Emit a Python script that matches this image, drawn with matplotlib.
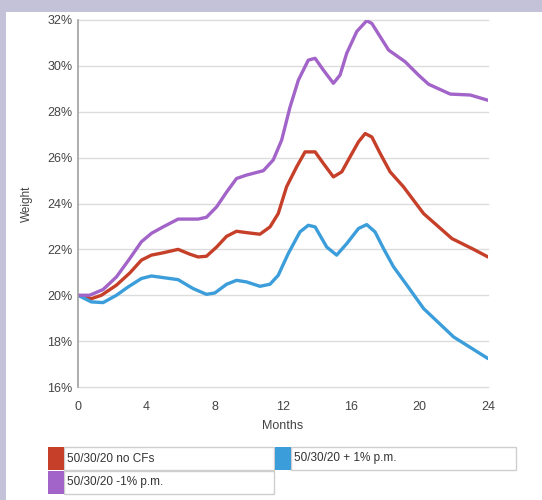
import matplotlib
matplotlib.use("Agg")
import matplotlib.pyplot as plt
from matplotlib.patches import Rectangle
from matplotlib.ticker import FuncFormatter

plt.rcParams['font.family'] = ['Liberation Sans', 'DejaVu Sans']

# months / weight (%)
months_nocf = [0, 0.78, 1.37, 2.25, 3.03, 3.71, 4.3, 4.98, 5.86, 6.55, 7.03, 7.52, 8.11, 8.7, 9.28,
               9.87, 10.65, 11.24, 11.72, 12.21, 12.8, 13.29, 13.88, 14.36, 14.95, 15.44, 15.93,
               16.42, 16.81, 17.2, 17.69, 18.27, 19.05, 20.23, 21.89, 23.16, 24]
weight_nocf = [20.0, 19.85, 20.0, 20.44, 20.97, 21.53, 21.75, 21.85, 22.0, 21.79, 21.67, 21.7, 22.1,
               22.57, 22.79, 22.73, 22.66, 22.98, 23.56, 24.73, 25.6, 26.25, 26.25, 25.75, 25.16,
               25.38, 26.04, 26.69, 27.05, 26.9, 26.18, 25.38, 24.73, 23.56, 22.47, 22.0, 21.67]

months_plus = [0, 0.78, 1.47, 2.25, 2.93, 3.71, 4.3, 5.86, 6.74, 7.52, 8.01, 8.7, 9.28, 9.87, 10.65,
               11.24, 11.72, 12.31, 12.99, 13.48, 13.88, 14.56, 15.14, 15.73, 16.42, 16.9, 17.39,
               17.88, 18.47, 19.25, 20.23, 21.99, 24]
weight_plus = [20.0, 19.71, 19.68, 20.0, 20.36, 20.73, 20.84, 20.68, 20.29, 20.04, 20.1, 20.48, 20.65,
               20.58, 20.39, 20.48, 20.87, 21.82, 22.76, 23.05, 22.98, 22.1, 21.75, 22.25, 22.91,
               23.08, 22.76, 22.04, 21.24, 20.44, 19.42, 18.18, 17.24]

months_minus = [0, 0.68, 1.47, 2.25, 3.03, 3.71, 4.3, 4.98, 5.86, 7.03, 7.52, 8.11, 8.7, 9.28, 9.87,
                10.85, 11.43, 11.92, 12.41, 12.9, 13.48, 13.88, 14.36, 14.95, 15.34, 15.73, 16.32,
                16.9, 17.2, 17.69, 18.18, 19.15, 19.93, 20.52, 21.79, 22.96, 24]
weight_minus = [20.0, 20.0, 20.25, 20.8, 21.6, 22.33, 22.7, 22.98, 23.32, 23.32, 23.4, 23.85, 24.5,
                25.09, 25.24, 25.43, 25.9, 26.76, 28.2, 29.38, 30.25, 30.33, 29.82, 29.24, 29.6,
                30.55, 31.5, 31.97, 31.85, 31.27, 30.69, 30.18, 29.6, 29.2, 28.77, 28.73, 28.5]

x_ticks = [0, 4, 8, 12, 16, 20, 24]
y_ticks = [16, 18, 20, 22, 24, 26, 28, 30, 32]
labels = ["50/30/20 no CFs", "50/30/20 + 1% p.m.", "50/30/20 -1% p.m."]
colors = ["#c63f28", "#3b9edb", "#a264c8"]

W, H = 542, 500
fig = plt.figure(figsize=(W / 100, H / 100), dpi=100)
fig.patch.set_facecolor("#c4c2d8")

# white panel + legend boxes, in pixel coordinates (behind the chart)
bg = fig.add_axes([0, 0, 1, 1], facecolor="none", zorder=0)
bg.set_xlim(0, W)
bg.set_ylim(H, 0)
bg.axis("off")
bg.add_patch(Rectangle((6, 12), W, H, facecolor="white", edgecolor="none"))
boxes = [(48, 447, 274), (275, 447, 516), (48, 471, 274)]
for (x0, y0, x1), lab, c in zip(boxes, labels, colors):
    bg.add_patch(Rectangle((x0 + 16, y0), x1 - x0 - 16, 23, facecolor="white",
                           edgecolor="#cfcfcf", lw=1))
    bg.add_patch(Rectangle((x0, y0), 16, 23, facecolor=c, edgecolor="none"))
    bg.text(x0 + 19, y0 + 11.5, lab, fontsize=8.5, color="#333333", va="center", ha="left")

ax = fig.add_axes([78 / W, 1 - 387 / H, (488 - 78) / W, (387 - 20) / H], zorder=1)
ax.set_facecolor("none")
for mx, wy, c in [(months_nocf, weight_nocf, colors[0]),
                  (months_plus, weight_plus, colors[1]),
                  (months_minus, weight_minus, colors[2])]:
    ax.plot(mx, wy, color=c, lw=2.4, solid_capstyle="round", solid_joinstyle="round")

ax.set_xlim(0, 24)
ax.set_ylim(16, 32)
ax.set_xticks(x_ticks)
ax.set_yticks(y_ticks)
ax.yaxis.set_major_formatter(FuncFormatter(lambda v, p: "%d%%" % v))
ax.grid(axis="y", color="#dcdcdc", lw=1, clip_on=False)
ax.set_axisbelow(True)
for s in ["top", "right", "bottom"]:
    ax.spines[s].set_visible(False)
ax.spines["left"].set_color("#a0a0a0")
ax.spines["left"].set_linewidth(1.2)
ax.tick_params(axis="both", length=0, labelsize=9, colors="#444444")
ax.tick_params(axis="y", pad=4)
ax.tick_params(axis="x", pad=10)
ax.set_xlabel("Months", fontsize=9, color="#444444", labelpad=5)
ax.set_ylabel("Weight", fontsize=8.5, color="#444444", labelpad=10)

fig.savefig("out.png", dpi=100, facecolor=fig.get_facecolor())
